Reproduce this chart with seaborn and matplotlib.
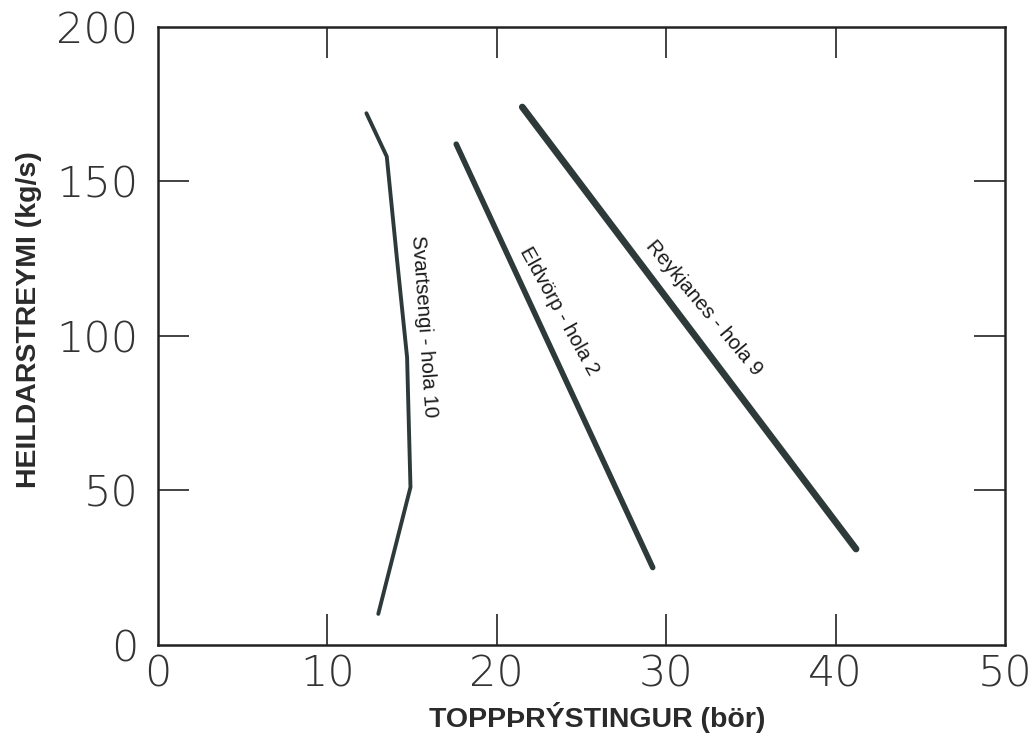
import matplotlib
matplotlib.use("Agg")
import matplotlib.pyplot as plt
import seaborn as sns
import pandas as pd

# Lesið af myndinni (toppþrýstingur í börum, heildarstreymi í kg/s)
svartsengi_p = [12.3, 13.5, 14.1, 14.7, 14.9, 13.0]
svartsengi_q = [172, 158, 125, 93, 51, 10]
eldvorp_p = [17.6, 29.2]
eldvorp_q = [162, 25]
reykjanes_p = [21.5, 41.2]
reykjanes_q = [174, 31]

x_ticks = [0, 10, 20, 30, 40, 50]
y_ticks = [0, 50, 100, 150, 200]

df = pd.concat([
    pd.DataFrame({"p": svartsengi_p, "q": svartsengi_q, "hola": "Svartsengi - hola 10"}),
    pd.DataFrame({"p": eldvorp_p, "q": eldvorp_q, "hola": "Eldvörp - hola 2"}),
    pd.DataFrame({"p": reykjanes_p, "q": reykjanes_q, "hola": "Reykjanes - hola 9"}),
], ignore_index=True)

sns.set_style("white")
plt.rcParams["font.family"] = ["Liberation Sans", "DejaVu Sans"]

fig = plt.figure(figsize=(10.33, 7.42), dpi=100)
ax = fig.add_axes([0.153, 0.131, 0.820, 0.833])

line_col = "#2e3a3a"
widths = {"Svartsengi - hola 10": 2.8, "Eldvörp - hola 2": 4.0, "Reykjanes - hola 9": 4.9}
for name, sub in df.groupby("hola", sort=False):
    sns.lineplot(data=sub, x="p", y="q", ax=ax, sort=False, color=line_col,
                 linewidth=widths[name], estimator=None, legend=False)

ax.set_xlim(0, 50)
ax.set_ylim(0, 200)

# merkingar á ferlunum
txt = dict(ha="center", va="center", fontsize=14.8, color="#1a1a1a")
ax.text(15.7, 103, "Svartsengi - hola 10", rotation=-86, **txt)
ax.text(23.7, 108, "Eldvörp - hola 2", rotation=-61, **txt)
ax.text(32.2, 109, "Reykjanes - hola 9", rotation=-50, **txt)

# ás og kvarðar
ax.set_xticks(x_ticks)
ax.set_yticks(y_ticks)
ax.tick_params(axis="both", direction="in", length=22, width=1.2, color="#222222",
               top=True, right=True, bottom=True, left=True,
               labelsize=31, labelcolor="#333333")
ax.tick_params(axis="y", pad=14)
ax.tick_params(axis="x", pad=6)
for lab in ax.get_xticklabels() + ax.get_yticklabels():
    lab.set_fontfamily(["DejaVu Sans"])
    lab.set_fontweight("light")
# engin kvarðastrik á hornunum
for t in [ax.xaxis.get_major_ticks()[0], ax.xaxis.get_major_ticks()[-1],
          ax.yaxis.get_major_ticks()[0], ax.yaxis.get_major_ticks()[-1]]:
    t.tick1line.set_visible(False)
    t.tick2line.set_visible(False)

for s in ax.spines.values():
    s.set_visible(True)
    s.set_color("#222222")
    s.set_linewidth(1.8)

ax.set_xlabel("TOPPÞRÝSTINGUR (bör)", fontsize=20.5, fontweight="bold", color="#2a2a2a")
ax.set_ylabel("HEILDARSTREYMI (kg/s)", fontsize=20.5, fontweight="bold", color="#2a2a2a")
ax.xaxis.set_label_coords(0.519, -0.092)
ax.yaxis.set_label_coords(-0.137, 0.526)

fig.savefig("out.png", dpi=100)
plt.close(fig)
